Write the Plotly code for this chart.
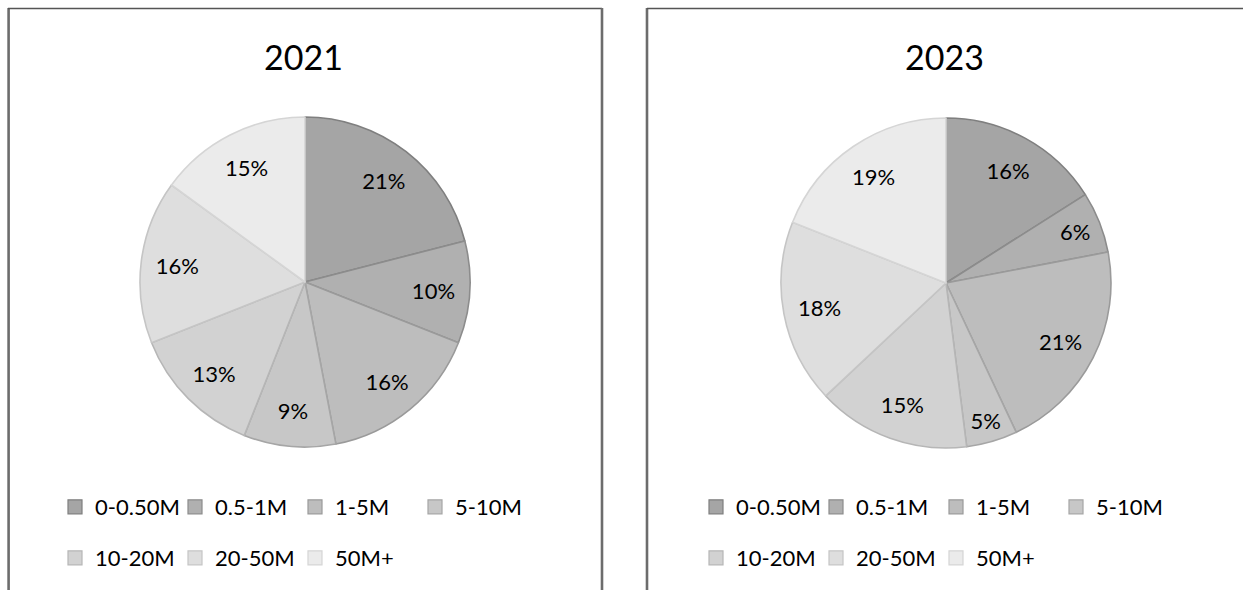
import plotly.graph_objects as go

# ---- data ----
categories = ["0-0.50M", "0.5-1M", "1-5M", "5-10M", "10-20M", "20-50M", "50M+"]
values_2021 = [21, 10, 16, 9, 13, 16, 15]
values_2023 = [16, 6, 21, 5, 15, 18, 19]
years = ["2021", "2023"]

# ---- style ----
fill_colors = ["#a5a5a5", "#b0b0b0", "#bdbdbd", "#c7c7c7", "#d2d2d2", "#dedede", "#ebebeb"]
line_colors = ["#7f7f7f", "#8c8c8c", "#9a9a9a", "#a6a6a6", "#b6b6b6", "#c5c5c5", "#d5d5d5"]
FONT = "Lato, Liberation Sans, sans-serif"
W, H = 1243, 590


def fx(px):
    return px / W


def fy(px):
    return 1 - px / H


series = [values_2021, values_2023]
pie_centers = [(305, 282), (946, 283)]
R = 165
legend_x = [55, 696]
legend_rows_y = [507, 558]

fig = go.Figure()

for i, (year, vals) in enumerate(zip(years, series)):
    cx, cy = pie_centers[i]
    dom = dict(x=[fx(cx - R), fx(cx + R)], y=[fy(cy + R), fy(cy - R)])
    # filled pie
    fig.add_trace(go.Pie(
        labels=categories, values=vals, sort=False, direction="clockwise", rotation=0,
        textinfo="none",
        marker=dict(colors=fill_colors, line=dict(color=line_colors, width=1.6)),
        domain=dom, showlegend=False, name=year,
        hoverinfo="label+value+percent",
    ))
    # label layer (transparent ring that only carries the percentage labels)
    fig.add_trace(go.Pie(
        labels=categories, values=vals, sort=False, direction="clockwise", rotation=0,
        hole=0.56,
        textinfo="percent", texttemplate="%{percent:.0%}",
        textposition="inside", insidetextorientation="horizontal",
        textfont=dict(family=FONT, size=22, color="#000000"),
        marker=dict(colors=["rgba(0,0,0,0)"] * len(categories), line=dict(width=0)),
        domain=dom, showlegend=False, name=year, hoverinfo="skip",
    ))

# legend entries (two rows per chart)
legend_ids = [["legend", "legend2"], ["legend3", "legend4"]]
for i, year in enumerate(years):
    for ci, cat in enumerate(categories):
        row = 0 if ci < 4 else 1
        fig.add_trace(go.Scatter(
            x=[None], y=[None], mode="markers", name=cat,
            marker=dict(symbol="square", size=14, color=fill_colors[ci],
                        line=dict(color=line_colors[ci], width=1.2)),
            legend=legend_ids[i][row], legendgroup=f"{year}-{cat}",
            hoverinfo="skip",
        ))

legend_common = dict(
    orientation="h", xanchor="left", yanchor="middle",
    entrywidth=75, entrywidthmode="pixels",
    font=dict(family=FONT, size=22, color="#000000"),
    bgcolor="rgba(0,0,0,0)", borderwidth=0, itemclick=False, itemdoubleclick=False,
)
layout_legends = {}
for i in range(2):
    for r in range(2):
        layout_legends[legend_ids[i][r]] = dict(
            legend_common, x=fx(legend_x[i]), y=fy(legend_rows_y[r]))

# titles
annotations = []
for i, year in enumerate(years):
    annotations.append(dict(
        text=year, x=fx(pie_centers[i][0] - 2), y=fy(56), xref="paper", yref="paper",
        xanchor="center", yanchor="middle", showarrow=False,
        font=dict(family=FONT, size=34, color="#000000"),
    ))

# panel borders
side = dict(color="#6c6c6c", width=2.6)
top = dict(color="#555555", width=1.4)
shapes = [
    dict(type="line", xref="paper", yref="paper", x0=fx(8.6), x1=fx(8.6), y0=fy(8), y1=fy(600), line=side),
    dict(type="line", xref="paper", yref="paper", x0=fx(8), x1=fx(602), y0=fy(8.5), y1=fy(8.5), line=top),
    dict(type="line", xref="paper", yref="paper", x0=fx(602), x1=fx(602), y0=fy(8), y1=fy(600), line=side),
    dict(type="line", xref="paper", yref="paper", x0=fx(647), x1=fx(647), y0=fy(8), y1=fy(600), line=side),
    dict(type="line", xref="paper", yref="paper", x0=fx(647), x1=fx(1250), y0=fy(8.5), y1=fy(8.5), line=top),
]

fig.update_layout(
    width=W, height=H,
    margin=dict(l=0, r=0, t=0, b=0),
    paper_bgcolor="white", plot_bgcolor="white",
    xaxis=dict(visible=False), yaxis=dict(visible=False),
    annotations=annotations, shapes=shapes,
    **layout_legends,
)

fig.write_html("out.html", config={"displayModeBar": False},
               post_script="document.body.style.margin='0px';")
